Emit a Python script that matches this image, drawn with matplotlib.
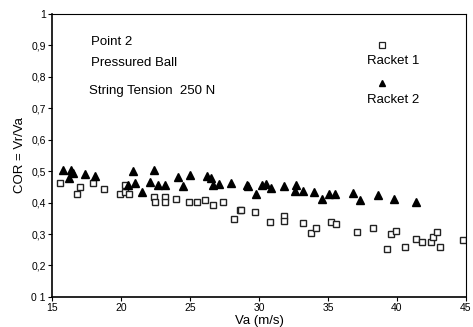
import matplotlib
matplotlib.use("Agg")
import matplotlib.pyplot as plt

plt.rcParams['font.family'] = ['Liberation Sans', 'DejaVu Sans']

# Racket 1 (open squares)
r1_va = [15.6, 16.8, 17.0, 18.0, 18.8, 19.9, 20.3, 20.3, 20.6, 22.4, 22.5, 23.2, 23.2,
         24.0, 24.9, 25.5, 26.1, 26.7, 27.4, 28.2, 28.6, 28.7, 29.7, 30.8, 31.8, 31.8,
         33.2, 33.8, 34.1, 35.2, 35.6, 37.1, 38.3, 39.3, 39.6, 39.9, 40.6, 41.4, 41.8,
         42.5, 42.6, 42.9, 43.1, 44.8]
r1_cor = [0.461, 0.429, 0.450, 0.461, 0.442, 0.429, 0.434, 0.455, 0.429, 0.418, 0.403, 0.418, 0.403,
          0.413, 0.403, 0.403, 0.408, 0.392, 0.403, 0.348, 0.378, 0.378, 0.371, 0.339, 0.358, 0.342,
          0.336, 0.302, 0.318, 0.339, 0.332, 0.307, 0.318, 0.252, 0.299, 0.310, 0.260, 0.284, 0.276,
          0.276, 0.290, 0.306, 0.258, 0.281]

# Racket 2 (filled triangles)
r2_va = [15.8, 16.2, 16.4, 16.5, 17.4, 18.1, 20.5, 20.9, 21.0, 21.5, 22.1, 22.4, 22.7, 23.2,
         24.1, 24.5, 25.0, 26.2, 26.5, 26.7, 27.1, 28.0, 29.1, 29.2, 29.8, 30.2, 30.5, 30.9,
         31.8, 32.6, 32.7, 33.2, 34.0, 34.6, 35.1, 35.5, 36.8, 37.3, 38.6, 39.8, 41.4]
r2_cor = [0.503, 0.478, 0.503, 0.494, 0.490, 0.484, 0.455, 0.500, 0.462, 0.434, 0.466, 0.503, 0.455, 0.455,
          0.480, 0.452, 0.487, 0.484, 0.477, 0.455, 0.460, 0.464, 0.455, 0.452, 0.429, 0.455, 0.460, 0.445,
          0.452, 0.437, 0.455, 0.437, 0.434, 0.410, 0.429, 0.429, 0.431, 0.408, 0.424, 0.410, 0.403]

xticks = [15, 20, 25, 30, 35, 40, 45]
yticks = [0.1, 0.2, 0.3, 0.4, 0.5, 0.6, 0.7, 0.8, 0.9, 1.0]
ytick_labels = ["0 1", "0,2", "0,3", "0,4", "0,5", "0,6", "0,7", "0,8", "0,9", "1"]

fig = plt.figure(figsize=(4.73, 3.27), dpi=100)
ax = fig.add_axes([0.110, 0.092, 0.875, 0.865])

ax.plot(r1_va, r1_cor, linestyle='none', marker='s', markersize=5,
        markerfacecolor='white', markeredgecolor='#222222', markeredgewidth=1.0)
ax.plot(r2_va, r2_cor, linestyle='none', marker='^', markersize=6,
        markerfacecolor='black', markeredgecolor='black')

ax.set_xlim(15, 45)
ax.set_ylim(0.1, 1.0)
ax.set_xticks(xticks)
ax.set_xticklabels([str(v) for v in xticks])
ax.set_yticks(yticks)
ax.set_yticklabels(ytick_labels)
ax.tick_params(labelsize=7.5, length=3, width=0.8, direction='out', pad=1.5)

for s in ['left', 'bottom']:
    ax.spines[s].set_linewidth(1.2)
for s in ['top', 'right']:
    ax.spines[s].set_linewidth(0.8)

ax.set_xlabel("Va (m/s)", fontsize=9.5, labelpad=1)
ax.set_ylabel("COR = Vr/Va", fontsize=9.5, labelpad=4)

ax.text(17.8, 0.91, "Point 2", fontsize=9.5, va='center')
ax.text(17.8, 0.845, "Pressured Ball", fontsize=9.5, va='center')
ax.text(17.65, 0.755, "String Tension  250 N", fontsize=9.5, va='center')

ax.plot([38.9], [0.9], linestyle='none', marker='s', markersize=4,
        markerfacecolor='white', markeredgecolor='#222222', markeredgewidth=0.9)
ax.text(39.7, 0.85, "Racket 1", fontsize=9.5, ha='center', va='center')
ax.plot([38.9], [0.78], linestyle='none', marker='^', markersize=5,
        markerfacecolor='black', markeredgecolor='black')
ax.text(39.7, 0.725, "Racket 2", fontsize=9.5, ha='center', va='center')

fig.savefig("out.png", dpi=100)
